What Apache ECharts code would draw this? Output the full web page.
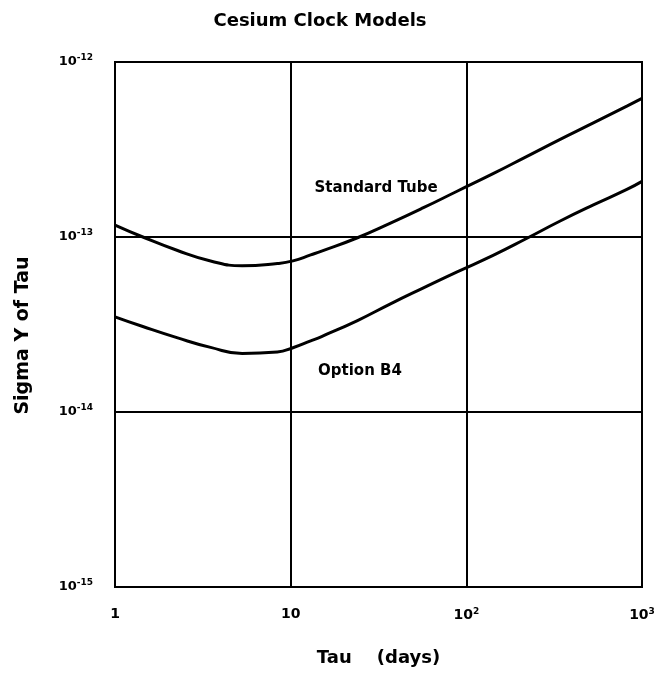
<!DOCTYPE html>
<html>
<head>
<meta charset="utf-8">
<script src="https://cdn.jsdelivr.net/npm/echarts@6/dist/echarts.min.js"></script>
<style>html,body{margin:0;padding:0;background:#fff;}#c{width:662px;height:687px;}</style>
</head>
<body>
<div id="c"></div>
<script>
// Tau (days)
const tau = [1, 1.44, 2.25, 3.5, 5.3, 8.4, 10.3, 13, 15, 24, 37, 57, 88, 142, 220, 340, 525, 820, 1000];
// Sigma Y of Tau – Standard Tube
const standardTube = [1.17e-13, 1.0e-13, 8.4e-14, 7.3e-14, 6.85e-14, 7.05e-14, 7.3e-14, 7.9e-14, 8.3e-14, 9.9e-14, 1.2e-13, 1.47e-13, 1.82e-13, 2.3e-13, 2.88e-13, 3.6e-13, 4.47e-13, 5.6e-13, 6.2e-13];
// Sigma Y of Tau – Option B4
const optionB4 = [3.5e-14, 3.08e-14, 2.66e-14, 2.34e-14, 2.16e-14, 2.2e-14, 2.33e-14, 2.55e-14, 2.7e-14, 3.33e-14, 4.15e-14, 5.12e-14, 6.3e-14, 7.85e-14, 9.8e-14, 1.23e-13, 1.52e-13, 1.87e-13, 2.08e-13];
const xTickLabels = {1: '1', 10: '10', 100: '10{s|2}', 1000: '10{s|3}'};
const yTickExponents = [-15, -14, -13, -12];
const curveLabels = [
  {name: 'Standard Tube', coord: [30.6, 1.9e-13]},
  {name: 'Option B4', coord: [24.8, 1.71e-14]}
];

const FONT = 'DejaVu Sans';
const chart = echarts.init(document.getElementById('c'));
const pairs = (xs, ys) => xs.map((x, i) => [x, ys[i]]);
const supStyle = {fontSize: 9, fontWeight: 'bold', fontFamily: FONT, verticalAlign: 'top', padding: [0, 0, 8, 0], color: '#000'};

chart.setOption({
  backgroundColor: '#fff',
  animation: false,
  title: {
    text: 'Cesium Clock Models',
    left: 315, top: 7, textAlign: 'center',
    textStyle: {fontFamily: FONT, fontWeight: 'bold', fontSize: 18, color: '#000'}
  },
  grid: {left: 115, right: 20, top: 62, bottom: 100, show: true, borderColor: '#000', borderWidth: 2},
  xAxis: {
    type: 'log', logBase: 10, min: 1, max: 1000,
    name: 'Tau    (days)', nameLocation: 'middle', nameGap: 62,
    nameTextStyle: {fontFamily: FONT, fontWeight: 'bold', fontSize: 18, color: '#000'},
    axisLine: {show: true, lineStyle: {color: '#000', width: 2}},
    axisTick: {show: false},
    splitLine: {show: true, lineStyle: {color: '#000', width: 2}},
    axisLabel: {
      margin: 20, color: '#000', fontFamily: FONT, fontWeight: 'bold', fontSize: 14,
      formatter: v => xTickLabels[Math.round(v)] || '',
      rich: {s: supStyle}
    }
  },
  yAxis: {
    type: 'log', logBase: 10, min: 1e-15, max: 1e-12,
    name: 'Sigma Y of Tau', nameLocation: 'middle', nameGap: 82, nameRotate: 90,
    nameTextStyle: {fontFamily: FONT, fontWeight: 'bold', fontSize: 19, color: '#000', padding: [0, 22, 0, 0]},
    axisLine: {show: true, lineStyle: {color: '#000', width: 2}},
    axisTick: {show: false},
    splitLine: {show: true, lineStyle: {color: '#000', width: 2}},
    axisLabel: {
      margin: 22, color: '#000', fontFamily: FONT, fontWeight: 'bold', fontSize: 13,
      formatter: v => {
        const e = Math.round(Math.log10(v));
        return yTickExponents.includes(e) ? '10{s|' + e + '}' : '';
      },
      rich: {s: supStyle}
    }
  },
  series: [
    {
      name: 'Standard Tube', type: 'line', data: pairs(tau, standardTube), smooth: 0.5,
      showSymbol: false, lineStyle: {color: '#000', width: 3},
      markPoint: {
        symbol: 'circle', symbolSize: 0,
        label: {show: true, formatter: '{b}', color: '#000', fontFamily: FONT, fontWeight: 'bold', fontSize: 15},
        data: [{name: curveLabels[0].name, coord: curveLabels[0].coord}]
      }
    },
    {
      name: 'Option B4', type: 'line', data: pairs(tau, optionB4), smooth: 0.5,
      showSymbol: false, lineStyle: {color: '#000', width: 3},
      markPoint: {
        symbol: 'circle', symbolSize: 0,
        label: {show: true, formatter: '{b}', color: '#000', fontFamily: FONT, fontWeight: 'bold', fontSize: 15},
        data: [{name: curveLabels[1].name, coord: curveLabels[1].coord}]
      }
    }
  ]
});
</script>
</body>
</html>
